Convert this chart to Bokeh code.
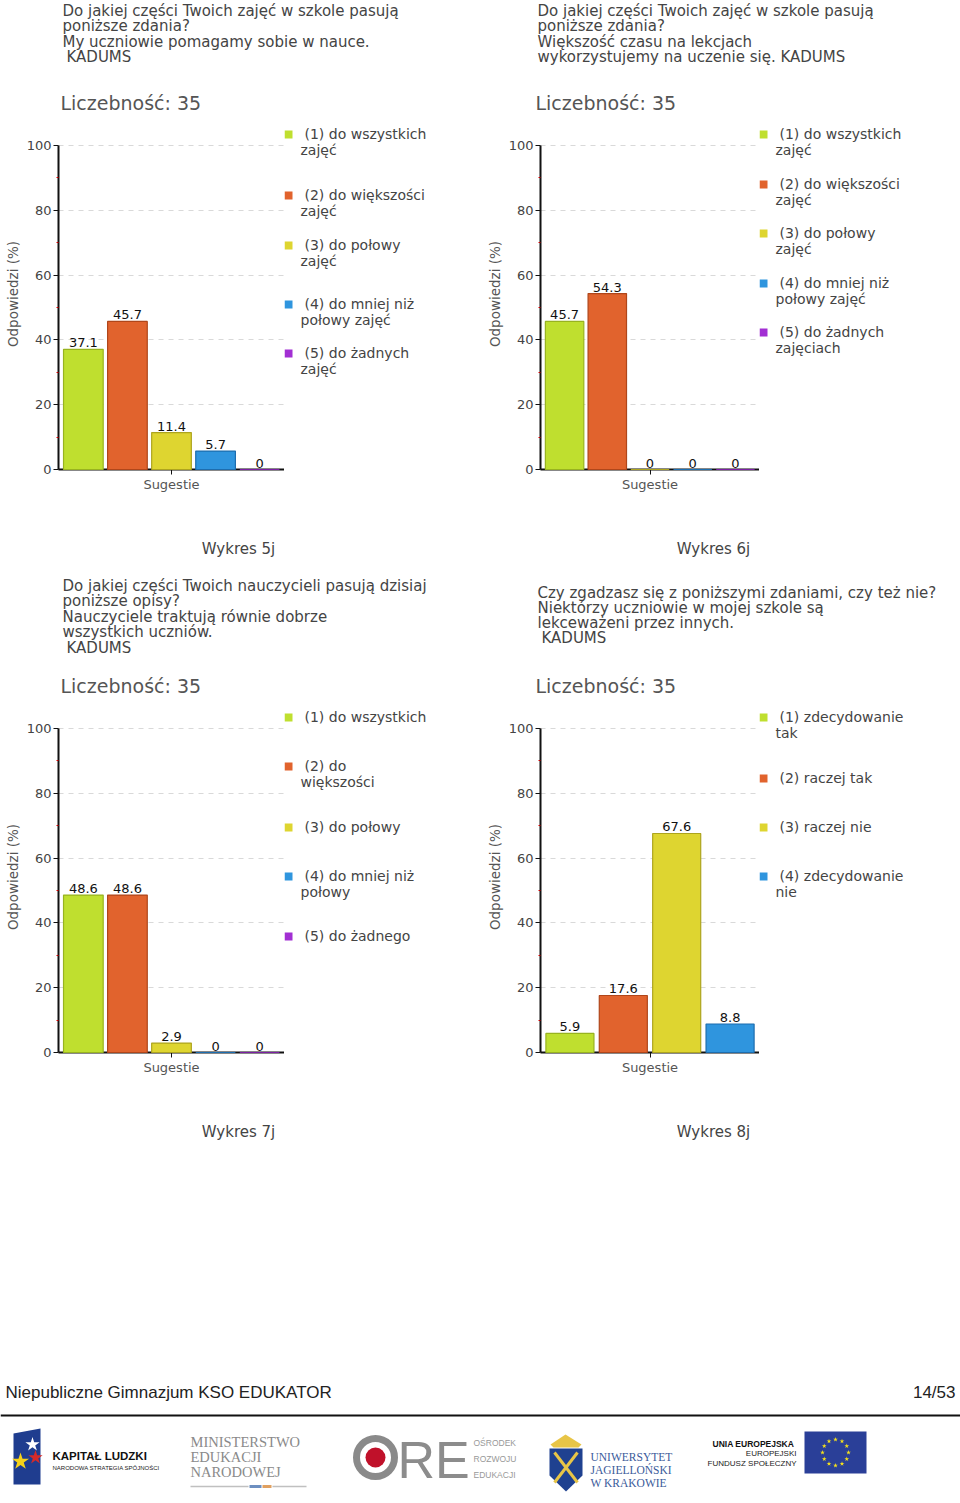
import math
from bokeh.plotting import figure
from bokeh.layouts import row, column
from bokeh.models import Range1d, FactorRange, FixedTicker, ColumnDataSource
from bokeh.transform import dodge
from bokeh.core.properties import value
from bokeh.embed import file_html
from bokeh.resources import INLINE

# ---------------- data ----------------
group = ["Sugestie"]
y_ticks = [0, 20, 40, 60, 80, 100]
y_minor = [10, 30, 50, 70, 90]
count_label = "Liczebność: 35"

cats_5j = ["(1) do wszystkich\nzajęć", "(2) do większości\nzajęć", "(3) do połowy\nzajęć",
           "(4) do mniej niż\npołowy zajęć", "(5) do żadnych\nzajęć"]
vals_5j = [37.1, 45.7, 11.4, 5.7, 0]

cats_6j = ["(1) do wszystkich\nzajęć", "(2) do większości\nzajęć", "(3) do połowy\nzajęć",
           "(4) do mniej niż\npołowy zajęć", "(5) do żadnych\nzajęciach"]
vals_6j = [45.7, 54.3, 0, 0, 0]

cats_7j = ["(1) do wszystkich", "(2) do\nwiększości", "(3) do połowy",
           "(4) do mniej niż\npołowy", "(5) do żadnego"]
vals_7j = [48.6, 48.6, 2.9, 0, 0]

cats_8j = ["(1) zdecydowanie\ntak", "(2) raczej tak", "(3) raczej nie", "(4) zdecydowanie\nnie"]
vals_8j = [5.9, 17.6, 67.6, 8.8]

title_5j = ["Do jakiej części Twoich zajęć w szkole pasują", "poniższe zdania?",
            "My uczniowie pomagamy sobie w nauce.", " KADUMS"]
title_6j = ["Do jakiej części Twoich zajęć w szkole pasują", "poniższe zdania?",
            "Większość czasu na lekcjach", "wykorzystujemy na uczenie się. KADUMS"]
title_7j = ["Do jakiej części Twoich nauczycieli pasują dzisiaj", "poniższe opisy?",
            "Nauczyciele traktują równie dobrze", "wszystkich uczniów.", " KADUMS"]
title_8j = ["Czy zgadzasz się z poniższymi zdaniami, czy też nie?",
            "Niektórzy uczniowie w mojej szkole są", "lekceważeni przez innych.", " KADUMS"]

captions = ["Wykres 5j", "Wykres 6j", "Wykres 7j", "Wykres 8j"]
footer_left = "Niepubliczne Gimnazjum KSO EDUKATOR"
footer_right = "14/53"

# ---------------- styles ----------------
FILLS = ["#BFDF2F", "#E1632D", "#DED530", "#2F95DE", "#A22FD3"]
LINES = ["#98B31F", "#B0461A", "#ADA41E", "#1D6DAE", "#7B1FA3"]
FONT = "DejaVu Sans"
MID_H = 382          # height of the chart/legend strip
BOTTOM = 31          # space under the plot frame
PX_PER_100 = 324     # pixels from 0 to 100 on the value axis
Y_END = 100 * (MID_H - BOTTOM) / PX_PER_100


def fmt(v):
    s = f"{v:.1f}"
    return s[:-2] if s.endswith(".0") else s


def blank(x0, x1, y0, y1):
    p = figure(width=x1 - x0, height=y1 - y0, x_range=Range1d(x0, x1), y_range=Range1d(y1, y0),
               x_axis_type=None, y_axis_type=None, output_backend="svg", toolbar_location=None,
               tools="", min_border=0, outline_line_color=None)
    return p


def put(p, x, y, txt, size, color="#444", font=FONT, align="left", style="normal", baseline="middle"):
    p.text(x=[x], y=[y], text=[txt], text_font=value(font), text_font_size=value(size),
           text_color=color, text_align=value(align), text_baseline=value(baseline),
           text_font_style=value(style))


def chart(cats, vals, width, border_left):
    p = figure(width=width, height=MID_H, x_range=FactorRange(factors=group), y_range=Range1d(0, Y_END),
               min_border_left=border_left, min_border_right=0, min_border_top=0, min_border_bottom=BOTTOM,
               output_backend="svg", toolbar_location=None, tools="", outline_line_color=None)
    n = len(vals)
    slot = 0.975 / n
    for i, v in enumerate(vals):
        off = (i - (n - 1) / 2) * slot
        src = ColumnDataSource(dict(g=group, v=[v], lab=[fmt(v)]))
        r = p.vbar(x=dodge("g", off, range=p.x_range), top="v", width=slot * 0.9, source=src,
                   fill_color=FILLS[i], line_color=LINES[i], line_width=1.2)
        r.level = "overlay"
        p.text(x=dodge("g", off, range=p.x_range), y="v", text="lab", source=src, y_offset=-2,
               text_font=value(FONT), text_font_size=value("13px"), text_color="#111",
               text_align=value("center"), text_baseline=value("bottom"))
    ya = p.yaxis[0]
    ya.bounds = (0, 100)
    ya.ticker = FixedTicker(ticks=y_ticks, minor_ticks=y_minor)
    ya.axis_label = "Odpowiedzi (%)"
    ya.axis_label_text_font = FONT
    ya.axis_label_text_font_size = "13.5px"
    ya.axis_label_text_font_style = "normal"
    ya.axis_label_text_color = "#555"
    ya.axis_label_standoff = 3
    ya.major_label_standoff = 2
    ya.major_label_text_font = FONT
    ya.major_label_text_font_size = "13px"
    ya.major_label_text_color = "#444"
    ya.axis_line_width = 2
    ya.axis_line_color = "#111"
    ya.major_tick_line_color = "#111"
    ya.major_tick_out = 5
    ya.major_tick_in = 0
    ya.minor_tick_line_color = "#cc0000"
    ya.minor_tick_out = 2
    ya.minor_tick_in = 0
    xa = p.xaxis[0]
    xa.axis_line_width = 2
    xa.axis_line_color = "#111"
    xa.major_tick_line_color = "#111"
    xa.major_tick_out = 5
    xa.major_tick_in = 0
    xa.major_label_standoff = 2
    xa.major_label_text_font = FONT
    xa.major_label_text_font_size = "13px"
    xa.major_label_text_color = "#555"
    p.xgrid.visible = False
    p.ygrid.ticker = FixedTicker(ticks=y_ticks[1:])
    p.ygrid.grid_line_color = "#d9d9d9"
    p.ygrid.grid_line_dash = "5 5"
    return p


def panel(x0, x1, axis_x, split, hy0, my0, cy0, cy1, title, t_y0, t_dy, cats, vals, leg_ys, caption):
    hdr = blank(x0, x1, hy0, my0)
    for i, ln in enumerate(title):
        ind = 4 if ln.startswith(" ") else 0
        put(hdr, axis_x + 4 + ind, t_y0 + i * t_dy, ln.strip(), "15px", "#444")
    put(hdr, axis_x + 2, my0 - 16, count_label, "19px", "#555")

    ch = chart(cats, vals, split - x0, axis_x - x0)

    # the legend figure's frame is aligned with the chart frame (top = my0, bottom = my0 + MID_H - BOTTOM)
    leg = figure(width=x1 - split, height=MID_H, x_range=Range1d(split, x1),
                 y_range=Range1d(my0 + MID_H - BOTTOM, my0), x_axis_type=None, y_axis_type=None,
                 output_backend="svg", toolbar_location=None, tools="", min_border=0,
                 min_border_bottom=BOTTOM, outline_line_color=None)
    for i, (c, ly) in enumerate(zip(cats, leg_ys)):
        leg.rect(x=[split + 4], y=[ly + 1], width=8, height=8, fill_color=FILLS[i], line_color=None)
        for j, part in enumerate(c.split("\n")):
            put(leg, split + (20 if j == 0 else 16), ly + j * 16, part, "14px", "#444")

    cap = blank(x0, x1, cy0, cy1)
    put(cap, axis_x + 180, my0 + 430, caption, "15px", "#444", align="center")
    return column(hdr, row(ch, leg), cap)


p5 = panel(0, 483, 58, 284, 0, 118, 500, 575, title_5j, 10, 15.5, cats_5j, vals_5j,
           [133, 194, 244, 303, 352], captions[0])
p6 = panel(483, 960, 533, 759, 0, 118, 500, 575, title_6j, 10, 15.5, cats_6j, vals_6j,
           [133, 183, 232, 282, 331], captions[1])
p7 = panel(0, 483, 58, 284, 575, 701, 1083, 1174, title_7j, 585, 15.5, cats_7j, vals_7j,
           [716, 765, 826, 875, 935], captions[2])
p8 = panel(483, 960, 533, 759, 575, 701, 1083, 1174, title_8j, 592, 15.3, cats_8j, vals_8j,
           [716, 777, 826, 875], captions[3])

# ---------------- footer ----------------
f = blank(0, 960, 1174, 1500)
put(f, 5, 1392, footer_left, "17px", "#222", font="Liberation Sans")
put(f, 955, 1392, footer_right, "17px", "#222", font="Liberation Sans", align="right")
f.segment(x0=[0], y0=[1415], x1=[960], y1=[1415], line_color="#111", line_width=2)

# Kapitał Ludzki
f.patch(x=[13, 40, 40, 13], y=[1433, 1428, 1484, 1484], fill_color="#1F3D8F", line_color=None)
f.scatter(x=[32], y=[1444], marker="star", size=15, fill_color="white", line_color=None)
f.scatter(x=[35], y=[1457], marker="star", size=15, fill_color="#D42A2A", line_color=None)
f.scatter(x=[20], y=[1461], marker="star", size=18, fill_color="#F5D21A", line_color=None)
put(f, 52, 1455, "KAPITAŁ LUDZKI", "11.5px", "#111", font="Liberation Sans", style="bold")
put(f, 52, 1467, "NARODOWA STRATEGIA SPÓJNOŚCI", "6px", "#222", font="Liberation Sans")

# MEN
for i, t in enumerate(["MINISTERSTWO", "EDUKACJI", "NARODOWEJ"]):
    put(f, 190, 1441 + i * 15, t, "14.5px", "#8a8a8a", font="Liberation Serif")
f.segment(x0=[190, 272], y0=[1486, 1486], x1=[248, 306], y1=[1486, 1486], line_color="#c0c0c0", line_width=1.5)
f.segment(x0=[249], y0=[1486], x1=[261], y1=[1486], line_color="#6D8FC0", line_width=3)
f.segment(x0=[262], y0=[1486], x1=[271], y1=[1486], line_color="#E0A060", line_width=3)

# ORE
f.circle(x=[375], y=[1457], radius=19, fill_color=None, line_color="#8a8a8a", line_width=7)
f.circle(x=[375], y=[1457], radius=10, fill_color="#C0112A", line_color=None)
put(f, 397, 1459, "RE", "52px", "#8c8c8c", font="Liberation Sans")
for i, t in enumerate(["OŚRODEK", "ROZWOJU", "EDUKACJI"]):
    put(f, 473, 1442 + i * 16, t, "8.5px", "#999", font="Liberation Sans")

# UJ
f.patch(x=[550, 565, 581, 578, 553], y=[1444, 1434, 1444, 1447, 1447], fill_color="#E8C547", line_color=None)
f.patch(x=[549, 582, 582, 565.5, 549], y=[1448, 1448, 1475, 1491, 1475], fill_color="#1F4190", line_color=None)
f.segment(x0=[554, 577], y0=[1452, 1452], x1=[577, 554], y1=[1482, 1482], line_color="#E8C547", line_width=3)
for i, t in enumerate(["UNIWERSYTET", "JAGIELLOŃSKI", "W KRAKOWIE"]):
    put(f, 590, 1456 + i * 13, t, "11.5px", "#3A5A9A", font="Liberation Serif")

# EU
put(f, 712, 1443, "UNIA EUROPEJSKA", "8.5px", "#111", font="Liberation Sans", style="bold")
put(f, 796, 1453, "EUROPEJSKI", "8px", "#222", font="Liberation Sans", align="right")
put(f, 796, 1463, "FUNDUSZ SPOŁECZNY", "8px", "#222", font="Liberation Sans", align="right")
f.rect(x=[835], y=[1452], width=62, height=42, fill_color="#2A3F98", line_color=None)
sx = [835 + 13 * math.cos(2 * math.pi * k / 12) for k in range(12)]
sy = [1452 + 13 * math.sin(2 * math.pi * k / 12) for k in range(12)]
f.scatter(x=sx, y=sy, marker="star", size=5, fill_color="#F5E11B", line_color=None)

layout = column(row(p5, p6), row(p7, p8), f)
open("out.html", "w").write(file_html(layout, INLINE))
